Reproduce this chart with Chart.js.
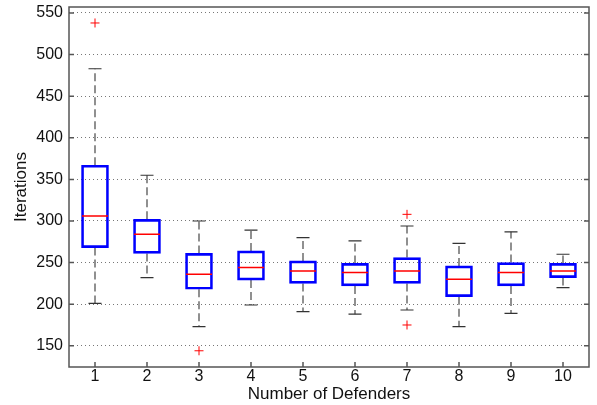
<!DOCTYPE html>
<html>
<head>
<meta charset="utf-8">
<script src="https://cdn.jsdelivr.net/npm/chart.js@4.4.1/dist/chart.umd.min.js"></script>
<style>
  html, body { margin: 0; padding: 0; background: #fff; }
  #wrap { width: 597px; height: 405px; }
</style>
</head>
<body>
<div id="wrap"><canvas id="c" width="597" height="405"></canvas></div>
<script>
// ---- data ----
const categories = [1, 2, 3, 4, 5, 6, 7, 8, 9, 10];
const whiskerLow  = [201, 232, 173, 199, 191, 188, 193, 173, 189, 220];
const q1          = [268, 261, 218, 229, 225, 222, 225, 209, 222, 232];
const median      = [306, 284, 236, 244, 240, 238, 240, 230, 238, 240];
const q3          = [367, 302, 261, 264, 252, 249, 256, 246, 250, 249];
const whiskerHigh = [483, 355, 300, 289, 280, 276, 294, 273, 287, 260];
const outlierX    = [1, 3, 7, 7];
const outlierY    = [538, 144, 308, 175];
const yTicks      = [150, 200, 250, 300, 350, 400, 450, 500, 550];
const xTicks      = categories;

const BOX_HALF = 0.25;
const CAP_HALF = 0.125;

const medianPts = [];
const whiskerPts = [];
const capPts = [];
categories.forEach((c, i) => {
  medianPts.push({x: c - BOX_HALF, y: median[i]}, {x: c + BOX_HALF, y: median[i]}, {x: c, y: null});
  whiskerPts.push({x: c, y: q3[i]}, {x: c, y: whiskerHigh[i]}, {x: c, y: null},
                  {x: c, y: q1[i]}, {x: c, y: whiskerLow[i]}, {x: c, y: null});
  capPts.push({x: c - CAP_HALF, y: whiskerHigh[i]}, {x: c + CAP_HALF, y: whiskerHigh[i]}, {x: c, y: null},
              {x: c - CAP_HALF, y: whiskerLow[i]}, {x: c + CAP_HALF, y: whiskerLow[i]}, {x: c, y: null});
});

const framePlugin = {
  id: 'frame',
  afterDatasetsDraw(chart) {
    const {ctx, chartArea: a, scales} = chart;
    ctx.save();
    ctx.strokeStyle = '#555';
    ctx.lineWidth = 1.5;
    ctx.strokeRect(a.left, a.top, a.right - a.left, a.bottom - a.top);
    ctx.beginPath();
    yTicks.forEach(v => {
      const y = scales.y.getPixelForValue(v);
      ctx.moveTo(a.left, y); ctx.lineTo(a.left + 5, y);
      ctx.moveTo(a.right, y); ctx.lineTo(a.right - 5, y);
    });
    xTicks.forEach(v => {
      const x = scales.x.getPixelForValue(v);
      ctx.moveTo(x, a.bottom); ctx.lineTo(x, a.bottom - 5);
    });
    ctx.stroke();
    ctx.restore();
  }
};

const tickFont = { family: 'Liberation Sans', size: 16 };
const titleFont = { family: 'Liberation Sans', size: 17 };

new Chart(document.getElementById('c'), {
  type: 'scatter',
  data: {
    datasets: [
      {
        type: 'scatter',
        data: outlierX.map((x, i) => ({x: x, y: outlierY[i]})),
        pointStyle: 'cross',
        pointRadius: 4.5,
        borderColor: '#ff0000',
        backgroundColor: '#ff0000',
        borderWidth: 1
      },
      {
        type: 'line',
        data: medianPts,
        borderColor: '#ff0000',
        borderWidth: 1.5,
        pointRadius: 0,
        spanGaps: false,
        fill: false
      },
      {
        type: 'bar',
        data: categories.map((c, i) => ({x: c, y: [q1[i], q3[i]]})),
        borderColor: '#0000ff',
        backgroundColor: 'rgba(0,0,0,0)',
        borderWidth: 2,
        borderSkipped: false,
        barThickness: 27
      },
      {
        type: 'line',
        data: capPts,
        borderColor: '#333',
        borderWidth: 1.2,
        pointRadius: 0,
        spanGaps: false,
        fill: false
      },
      {
        type: 'line',
        data: whiskerPts,
        borderColor: '#555',
        borderWidth: 1.3,
        borderDash: [8, 4],
        pointRadius: 0,
        spanGaps: false,
        fill: false
      }
    ]
  },
  options: {
    responsive: false,
    animation: false,
    layout: { padding: { left: 0, right: 8, top: 7, bottom: 0 } },
    plugins: { legend: { display: false }, tooltip: { enabled: false } },
    scales: {
      x: {
        type: 'linear',
        min: 0.5,
        max: 10.5,
        offset: false,
        afterBuildTicks: s => { s.ticks = xTicks.map(v => ({value: v})); },
        afterFit: s => { s.height = 38; s.paddingLeft = 0; s.paddingRight = 0; },
        grid: { display: false, drawTicks: false },
        border: { display: false },
        ticks: { color: '#111', font: tickFont, padding: 0, maxRotation: 0 },
        title: { display: true, text: 'Number of Defenders', color: '#111',
                 font: titleFont, padding: { top: 0, bottom: 0 } }
      },
      y: {
        type: 'linear',
        min: 124.5,
        max: 557.2,
        afterBuildTicks: s => { s.ticks = yTicks.map(v => ({value: v})); },
        afterFit: s => { s.width = 69; s.paddingTop = 0; s.paddingBottom = 0; },
        grid: { display: true, color: '#777', lineWidth: 1, drawTicks: false },
        border: { display: false, dash: [1, 3] },
        ticks: { color: '#111', font: tickFont, padding: 6 },
        title: { display: true, text: 'Iterations', color: '#111',
                 font: titleFont, padding: { top: 11, bottom: 0 } }
      }
    }
  },
  plugins: [framePlugin]
});
</script>
</body>
</html>
